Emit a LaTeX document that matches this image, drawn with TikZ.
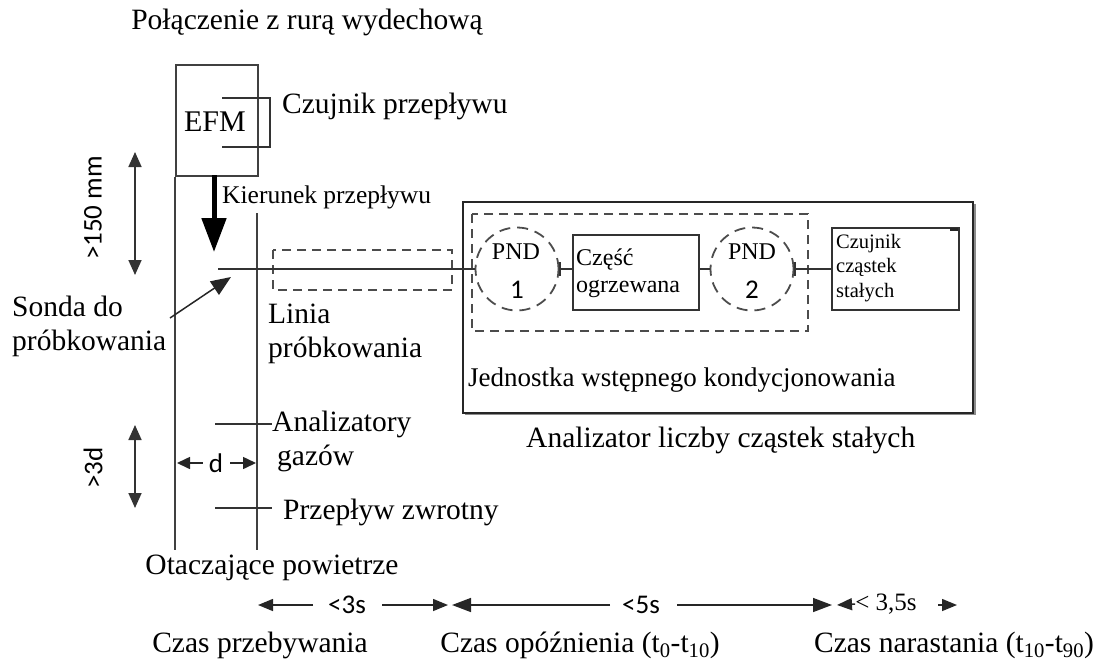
\documentclass[tikz,border=0pt]{standalone}
\usepackage{fontspec}
\setmainfont{Liberation Serif}
\newfontfamily\sansf{Carlito}
\usetikzlibrary{arrows.meta}
\begin{document}
\begin{tikzpicture}[x=1pt,y=-1pt,
  lbl/.style={inner sep=0pt, anchor=west, align=left, font=\fontsize{29.5}{34}\selectfont},
  lblmid/.style={inner sep=0pt, font=\fontsize{29.5}{34}\selectfont},
  small/.style={inner sep=0pt, anchor=west, align=left, font=\fontsize{25.5}{29}\selectfont},
  sans/.style={inner sep=0pt, font=\fontsize{27}{30}\selectfont\sansf},
  pipe/.style={line width=2.2pt, draw=black!75},
  thinl/.style={line width=1.6pt, draw=black!80},
  dashbox/.style={line width=1.8pt, draw=black!70, dash pattern=on 9pt off 6pt},
  dimarr/.style={line width=1.7pt, draw=black!80, {Triangle[width=13pt,length=15pt]}-{Triangle[width=13pt,length=15pt]}},
  tarr/.style={line width=1.5pt, draw=black!85, -{Triangle[width=12pt,length=15pt]}},
  boxn/.style={draw=black!80, line width=1.8pt, inner sep=0pt}
]
\useasboundingbox (0,0) rectangle (1114,665);

% title
\node[lblmid] (title) at (307,22) {Połączenie z rurą wydechową};

% exhaust pipe and EFM section
\node[boxn, draw=black!75, line width=2.2pt, minimum width=82pt, minimum height=111pt, anchor=north west] (efmbox) at (175,64) {};
\coordinate (pipeLB) at (175,550);
\coordinate (pipeRT) at (257,213);
\coordinate (pipeRB) at (257,550);
\draw[pipe] (efmbox.south west) -- (pipeLB);
\draw[pipe] (pipeRT) -- (pipeRB);
\node[inner sep=0pt, font=\fontsize{30}{34}\selectfont] (efm) at (215,122) {EFM};
\coordinate (brA) at (222,98);
\coordinate (brB) at (270,98);
\coordinate (brC) at (270,147);
\coordinate (brD) at (222,147);
\draw[line width=1.5pt, black!80] (brA) -- (brB) -- (brC) -- (brD);
\node[lbl] (czujnik) at (282,106) {Czujnik przepływu};

% flow direction arrow
\coordinate (flowA) at (214,175);
\coordinate (flowB) at (214,252);
\draw[line width=5pt, black, -{Triangle[width=24pt,length=34pt]}] (flowA) -- (flowB);
\node[small] (kier) at (222,197) {Kierunek przepływu};

% probe and sampling line
\coordinate (probe) at (218,269);
\draw[dashbox] (273,250) rectangle (452,290);
\node[lbl] (sonda) at (12,326) {Sonda do\\próbkowania};
\coordinate (sondaA) at (170,318);
\coordinate (sondaB) at (231,277);
\draw[line width=1.5pt, black!85, -{Triangle[width=16pt,length=20pt]}] (sondaA) -- (sondaB);
\node[lbl] (linia) at (268,334) {Linia\\próbkowania};

% analyser
\draw[line width=2.2pt, black!45] (465,414) -- (975,414) -- (975,204);
\node[boxn, line width=2pt, draw=black!85, minimum width=510pt, minimum height=211pt, anchor=north west] (pna) at (462,201) {};
\draw[dashbox] (472,214) rectangle (808,331);
\node[lbl, font=\fontsize{27}{30}\selectfont] (jedn) at (468,380) {Jednostka wstępnego kondycjonowania};
\node[lbl] (anal) at (526,440) {Analizator liczby cząstek stałych};

\node[circle, draw=black!70, line width=1.8pt, dash pattern=on 11pt off 7pt, minimum size=83pt, inner sep=0pt] (pnd1) at (517,269) {};
\node[inner sep=0pt, font=\fontsize{24}{27}\selectfont] at (516,252) {PND};
\node[sans] at (517,290) {1};
\node[circle, draw=black!70, line width=1.8pt, dash pattern=on 11pt off 7pt, minimum size=83pt, inner sep=0pt] (pnd2) at (752,269) {};
\node[inner sep=0pt, font=\fontsize{24}{27}\selectfont] at (752,252) {PND};
\node[sans] at (752,290) {2};

\node[boxn, line width=2pt, minimum width=126pt, minimum height=75pt] (heat) at (636,272.5) {};
\node[inner sep=0pt, anchor=west, align=left, font=\fontsize{24}{27}\selectfont] (heattxt) at (576,273) {Część\\ogrzewana};

\node[boxn, line width=1.5pt, minimum width=127pt, minimum height=82pt] (sens) at (895.5,269) {};
\draw[line width=3pt, black!85] (950,229) -- (958,229);
\node[inner sep=0pt, anchor=west, align=left, font=\fontsize{20.5}{24.5}\selectfont] (senstxt) at (836,268) {Czujnik\\cząstek\\stałych};

\draw[thinl] (probe) -- (pnd1.west);
\draw[thinl, {Bar[width=14pt]}-] (pnd1.east) -- (heat.west |- pnd1.east);
\draw[thinl] (heat.east |- pnd2.west) -- (pnd2.west);
\draw[thinl, {Bar[width=14pt]}-] (pnd2.east) -- (sens.west);

% dimensions
\coordinate (d1a) at (135,152);
\coordinate (d1b) at (135,275);
\draw[dimarr] (d1a) -- (d1b);
\node[sans, rotate=90] (d1lbl) at (93,208) {>150 mm};
\coordinate (d2a) at (135,425);
\coordinate (d2b) at (135,508);
\draw[dimarr] (d2a) -- (d2b);
\node[sans, rotate=90] (d2lbl) at (93,468) {>3d};

\node[sans] (dlbl) at (216,463) {d};
\coordinate (dl) at (177,463);
\coordinate (dr) at (256,463);
\draw[line width=1.6pt, black!85, -{Triangle[width=12pt,length=13pt]}] (dlbl.west) ++(-6,0) -- (dl);
\draw[line width=1.6pt, black!85, -{Triangle[width=12pt,length=13pt]}] (dlbl.east) ++(7,0) -- (dr);

% gas analysers and return flow
\coordinate (gasA) at (215,424);
\node[lbl] (gas) at (272,441) {Analizatory\\\hspace*{5pt}gazów};
\draw[thinl] (gasA) -- (gas.west |- gasA);
\coordinate (retA) at (215,508);
\node[lbl] (ret) at (283,512) {Przepływ zwrotny};
\draw[thinl] (retA) -- (272,508);

\node[lblmid] (otacz) at (272,568) {Otaczające powietrze};

% timeline
\node[sans] (t1) at (347,605) {<3s};
\coordinate (t1l) at (258,605);
\coordinate (t1r) at (448,605);
\draw[tarr] (313,605) -- (t1l);
\draw[tarr] (382,605) -- (t1r);
\node[sans] (t2) at (641,605) {<5s};
\coordinate (t2l) at (452,605);
\coordinate (t2r) at (832,605);
\draw[tarr, -{Triangle[width=14pt,length=19pt]}] (610,605) -- (t2l);
\draw[tarr, -{Triangle[width=14pt,length=19pt]}] (677,605) -- (t2r);
\node[inner sep=0pt, font=\fontsize{25}{28}\selectfont] (t3) at (886,604) {< 3,5s};
\coordinate (t3l) at (837,605);
\coordinate (t3r) at (957,605);
\draw[tarr] (t3.west) -- (t3l);
\draw[tarr] (938,605) -- (t3r);

\node[lblmid] (cz1) at (260,645) {Czas przebywania};
\node[lblmid] (cz2) at (580,645) {Czas opóźnienia (t\textsubscript{0}-t\textsubscript{10})};
\node[lblmid] (cz3) at (954,645) {Czas narastania (t\textsubscript{10}-t\textsubscript{90})};
\end{tikzpicture}
\end{document}
